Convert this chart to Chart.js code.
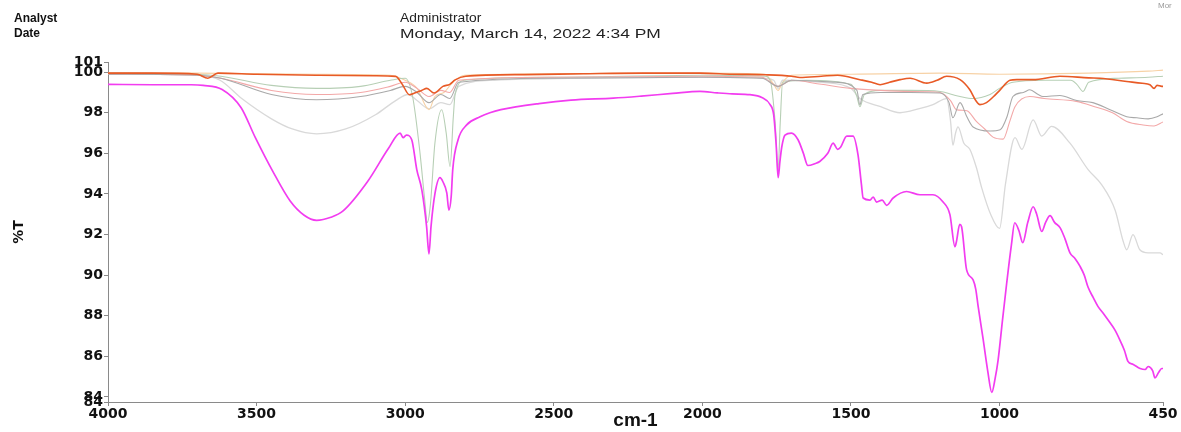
<!DOCTYPE html>
<html>
<head>
<meta charset="utf-8">
<script src="https://cdn.jsdelivr.net/npm/chart.js@4/dist/chart.umd.min.js"></script>
<style>
  body { margin: 0; background: #fff; }
  #wrap { position: relative; width: 1181px; height: 432px; }
  .hdr { position: absolute; font-family: "Liberation Sans", Arial, sans-serif; font-size: 12px; color: #222; white-space: nowrap; transform-origin: left top; }
  .b { font-weight: bold; color: #111; }
</style>
</head>
<body>
<div id="wrap">
  <canvas id="ir-chart" width="1181" height="432"></canvas>
  <div class="hdr b" style="left:14px; top:11px;">Analyst</div>
  <div class="hdr b" style="left:14px; top:26px;">Date</div>
  <div class="hdr" style="left:400px; top:11px; transform: scaleX(1.15);">Administrator</div>
  <div class="hdr" style="left:400px; top:27px; transform: scaleX(1.45);">Monday, March 14, 2022 4:34 PM</div>
  <div class="hdr" style="left:1158px; top:1px; font-size:8px; color:#999;">Mor</div>
</div>
<script>
// tick labels
const xTicks = [4000, 3500, 3000, 2500, 2000, 1500, 1000, 450];
const yTicks = [83.75, 84, 86, 88, 90, 92, 94, 96, 98, 100, 100.5];

// magenta sample
const magentaWn = [4000, 3850, 3720, 3680, 3616, 3552, 3505, 3445, 3387, 3340, 3298, 3250, 3210, 3127, 3056, 3017, 3007, 2996, 2978, 2961, 2944, 2928, 2920, 2913, 2900, 2883, 2873, 2860, 2853, 2845, 2840, 2822, 2793, 2748, 2715, 2678, 2550, 2442, 2300, 2206, 2100, 2008, 1950, 1900, 1840, 1800, 1772, 1760, 1752, 1745, 1739, 1733, 1722, 1700, 1678, 1660, 1645, 1620, 1605, 1578, 1560, 1545, 1535, 1514, 1493, 1476, 1465, 1459, 1436, 1425, 1414, 1395, 1380, 1358, 1313, 1268, 1224, 1190, 1167, 1150, 1145, 1134, 1128, 1111, 1089, 1080, 1072, 1055, 1040, 1026, 1015, 1005, 990, 976, 960, 949, 935, 922, 905, 887, 875, 858, 845, 830, 815, 796, 780, 763, 745, 729, 715, 702, 685, 669, 650, 628, 612, 595, 580, 568, 550, 527, 510, 500, 485, 477, 465, 454, 450];
const magentaT = [99.4, 99.38, 99.38, 99.35, 99.15, 98.25, 96.8, 95.1, 93.65, 92.95, 92.7, 92.85, 93.15, 94.6, 96.25, 97.0, 96.77, 96.9, 96.67, 95.2, 94.2, 92.4, 91.05, 92.4, 94.0, 94.8, 94.6, 94.05, 93.2, 93.9, 95.2, 96.67, 97.4, 97.8, 98.0, 98.15, 98.45, 98.62, 98.72, 98.82, 98.95, 99.05, 98.98, 98.93, 98.89, 98.75, 98.4, 97.9, 96.5, 94.8, 95.6, 96.3, 96.9, 97.0, 96.67, 96.0, 95.4, 95.5, 95.6, 96.0, 96.5, 96.2, 96.3, 96.85, 96.85, 95.9, 94.5, 93.8, 93.7, 93.85, 93.6, 93.7, 93.44, 93.8, 94.12, 93.96, 93.96, 93.6, 92.98, 91.4, 91.66, 92.5, 92.4, 90.27, 89.77, 89.3, 88.46, 86.82, 85.3, 84.22, 84.9, 85.8, 87.8, 89.6, 91.5, 92.58, 92.2, 91.6, 92.6, 93.37, 93.0, 92.15, 92.6, 92.93, 92.6, 92.33, 91.8, 91.1, 90.8, 90.43, 90.0, 89.4, 88.9, 88.46, 88.1, 87.65, 87.3, 86.8, 86.3, 85.75, 85.6, 85.4, 85.35, 85.5, 85.3, 84.94, 85.2, 85.4, 85.4];

// orange sample
const orangeWn = [4000, 3850, 3700, 3664, 3630, 3500, 3300, 3100, 3032, 3009, 2986, 2966, 2945, 2927, 2903, 2873, 2850, 2832, 2796, 2600, 2400, 2200, 2008, 1900, 1784, 1700, 1672, 1600, 1545, 1470, 1430, 1402, 1370, 1335, 1301, 1245, 1210, 1178, 1133, 1100, 1080, 1066, 1044, 1020, 998, 965, 942, 887, 797, 700, 662, 572, 520, 494, 480, 470, 454, 450];
const orangeT = [99.95, 99.95, 99.9, 99.7, 99.95, 99.9, 99.85, 99.82, 99.79, 99.38, 98.89, 98.98, 99.1, 99.2, 98.97, 99.3, 99.4, 99.62, 99.8, 99.88, 99.92, 99.95, 99.95, 99.9, 99.87, 99.8, 99.74, 99.8, 99.85, 99.63, 99.5, 99.38, 99.5, 99.63, 99.7, 99.46, 99.6, 99.8, 99.63, 99.13, 98.6, 98.4, 98.5, 98.8, 99.13, 99.6, 99.63, 99.63, 99.8, 99.72, 99.7, 99.54, 99.45, 99.38, 99.2, 99.35, 99.3, 99.3];

// light grey sample
const lightGreyWn = [4000, 3700, 3623, 3550, 3450, 3380, 3298, 3200, 3100, 3032, 2990, 2960, 2920, 2880, 2850, 2820, 2700, 2400, 2000, 1800, 1760, 1745, 1730, 1600, 1500, 1470, 1400, 1335, 1270, 1224, 1178, 1165, 1157, 1148, 1140, 1120, 1100, 1078, 1060, 1030, 1000, 980, 948, 925, 887, 858, 825, 763, 702, 656, 611, 584, 572, 551, 528, 500, 460, 450];
const lightGreyT = [99.9, 99.85, 99.6, 98.7, 97.7, 97.2, 96.96, 97.2, 97.9, 98.6, 98.9, 98.6, 98.2, 98.5, 98.4, 99.3, 99.6, 99.7, 99.75, 99.7, 99.6, 99.2, 99.6, 99.5, 99.2, 98.7, 98.3, 98.0, 98.2, 98.4, 98.7, 97.6, 96.4, 97.0, 97.3, 96.5, 96.2, 95.3, 94.3, 93.0, 92.3, 94.5, 96.77, 96.2, 97.65, 96.85, 97.33, 96.5, 95.2, 94.45, 93.2, 91.67, 91.25, 92.0, 91.25, 91.1, 91.1, 91.0];

// grey sample
const greyWn = [4000, 3700, 3620, 3450, 3298, 3150, 3050, 3000, 2960, 2920, 2880, 2850, 2820, 2500, 2000, 1800, 1745, 1700, 1550, 1480, 1470, 1460, 1400, 1300, 1200, 1170, 1157, 1133, 1110, 1089, 1032, 998, 975, 955, 920, 898, 870, 854, 797, 740, 686, 628, 572, 538, 500, 470, 450];
const greyT = [99.9, 99.85, 99.7, 98.9, 98.64, 98.8, 99.1, 99.3, 99.0, 98.5, 98.9, 98.7, 99.5, 99.7, 99.75, 99.7, 99.3, 99.6, 99.5, 99.1, 98.4, 98.9, 99.0, 99.0, 98.97, 98.5, 97.75, 98.5, 97.8, 97.3, 97.1, 97.16, 97.8, 98.8, 99.0, 99.13, 98.9, 98.8, 98.85, 98.6, 98.5, 98.15, 97.8, 97.75, 97.7, 97.8, 97.95];

// pink sample
const pinkWn = [4000, 3700, 3620, 3450, 3298, 3150, 3050, 3000, 2960, 2920, 2880, 2850, 2820, 2500, 2000, 1800, 1745, 1700, 1600, 1500, 1400, 1300, 1200, 1165, 1145, 1110, 1078, 1050, 1022, 988, 965, 948, 898, 850, 742, 680, 620, 572, 517, 480, 450];
const pinkT = [99.9, 99.85, 99.7, 99.1, 98.9, 99.0, 99.3, 99.5, 99.2, 98.8, 99.1, 99.0, 99.6, 99.75, 99.8, 99.75, 99.3, 99.6, 99.4, 99.2, 99.1, 99.05, 99.0, 98.6, 98.15, 98.1, 97.57, 97.2, 96.8, 96.7, 97.6, 98.3, 98.8, 98.7, 98.56, 98.3, 98.0, 97.57, 97.4, 97.35, 97.55];

// green sample
const greenWn = [4000, 3700, 3620, 3450, 3298, 3150, 3050, 3000, 2975, 2950, 2935, 2925, 2915, 2900, 2877, 2862, 2849, 2838, 2832, 2800, 2500, 2000, 1790, 1770, 1755, 1745, 1738, 1730, 1650, 1500, 1480, 1470, 1455, 1400, 1300, 1200, 1160, 1133, 1089, 1032, 1000, 955, 850, 760, 740, 719, 700, 600, 500, 450];
const greenT = [99.95, 99.9, 99.8, 99.35, 99.2, 99.3, 99.6, 99.7, 98.8, 96.0, 93.8, 92.6, 93.5, 96.5, 98.15, 97.0, 95.35, 97.8, 98.9, 99.6, 99.75, 99.85, 99.8, 99.5, 97.5, 95.2, 97.5, 99.5, 99.6, 99.4, 98.8, 98.3, 98.9, 99.1, 99.1, 99.05, 98.9, 98.8, 98.7, 98.9, 99.2, 99.5, 99.6, 99.6, 99.4, 99.05, 99.5, 99.7, 99.75, 99.8];

// peach sample
const peachWn = [4000, 3700, 3300, 3050, 3000, 2960, 2930, 2920, 2900, 2870, 2840, 2800, 2000, 1790, 1760, 1745, 1730, 1700, 1500, 1200, 1000, 700, 500, 450];
const peachT = [99.98, 99.95, 99.9, 99.85, 99.6, 99.2, 98.3, 98.15, 98.8, 99.0, 99.5, 99.85, 99.95, 99.9, 99.4, 99.1, 99.5, 99.85, 99.9, 99.95, 99.9, 99.95, 100.05, 100.1];

function toPoints(wn, t) {
    return wn.map((w, i) => ({ x: w, y: t[i] }));
}

function series(wn, t, color, width, order) {
    return {
        data: toPoints(wn, t),
        borderColor: color,
        borderWidth: width,
        pointRadius: 0,
        fill: false,
        cubicInterpolationMode: 'monotone',
        order: order
    };
}

const tickFont = { family: '"DejaVu Sans", sans-serif', size: 14, weight: 'bold' };
const axisColor = '#8a8a8a';

const ctx = document.getElementById('ir-chart').getContext('2d');
new Chart(ctx, {
    type: 'line',
    data: {
        datasets: [
            series(magentaWn, magentaT, '#f23cf0', 1.7, 0),
            series(orangeWn, orangeT, '#e85a26', 1.6, 1),
            series(greyWn, greyT, '#a9a9a9', 1.1, 2),
            series(pinkWn, pinkT, '#f3a8a8', 1.1, 3),
            series(greenWn, greenT, '#b7cfb5', 1.1, 4),
            series(peachWn, peachT, '#f7d2a6', 1.1, 5),
            series(lightGreyWn, lightGreyT, '#d9d9d9', 1.3, 6)
        ]
    },
    options: {
        responsive: false,
        animation: false,
        layout: { padding: { left: 0, top: 62, right: 18, bottom: 0 } },
        plugins: { legend: { display: false }, tooltip: { enabled: false } },
        scales: {
            x: {
                type: 'linear',
                reverse: true,
                min: 450,
                max: 4000,
                afterBuildTicks: s => { s.ticks = xTicks.map(v => ({ value: v })); },
                afterFit: s => { s.height = 30; },
                grid: { drawOnChartArea: false, tickLength: 4, color: axisColor },
                border: { color: axisColor },
                ticks: { autoSkip: false, maxRotation: 0, padding: 0, color: '#111', font: tickFont,
                         callback: v => String(v) },
                title: { display: true, text: 'cm-1', color: '#111', padding: { top: 0, bottom: 0 },
                         font: { family: '"Liberation Sans", Arial, sans-serif', size: 19, weight: 'bold' } }
            },
            y: {
                min: 83.75,
                max: 100.5,
                afterBuildTicks: s => { s.ticks = yTicks.map(v => ({ value: v })); },
                afterFit: s => { s.width = 108; },
                grid: { drawOnChartArea: false, tickLength: 4, color: axisColor },
                border: { color: axisColor },
                ticks: { autoSkip: false, padding: 1, color: '#111', font: tickFont,
                         callback: v => String(Math.round(v)) },
                title: { display: true, text: '%T', color: '#111', padding: { top: 11, bottom: 0 },
                         font: { family: '"DejaVu Sans", sans-serif', size: 14, weight: 'bold' } }
            }
        }
    }
});
</script>
</body>
</html>
